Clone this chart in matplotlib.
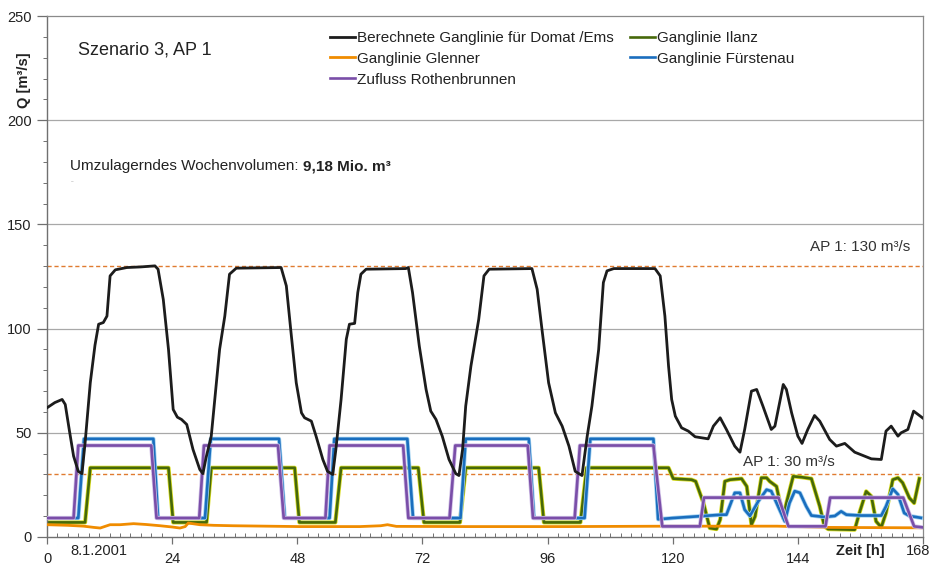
import numpy as np
import matplotlib
matplotlib.use('Agg')
import matplotlib.pyplot as plt
from matplotlib.ticker import MultipleLocator

plt.rcParams['font.family'] = ['Liberation Sans', 'DejaVu Sans']

# ─── DATEN ──────────────────────────────────────────────────────────────────────
# Berechnete Ganglinie Domat/Ems
domat_t = [0, 1.5, 2.9, 3.5, 4.3, 5.1, 6.0, 6.7, 7.3, 8.3, 9.2, 9.9, 10.8, 11.5, 12.1, 13.1,
           15.3, 18, 20.7, 21.3, 22.3, 23.3, 24.2, 25.0, 25.8, 26.8, 28.0, 29.3, 29.9, 30.5,
           31.5, 33.1, 34.1, 35.0, 36.3, 44.9, 45.9, 46.8, 47.8, 48.8, 49.4, 50.7, 51.6, 52.9,
           53.8, 54.8, 55.4, 56.4, 57.4, 58.0, 59.0, 59.6, 60.2, 61.2, 68.8, 69.3, 70.1, 71.4,
           72.7, 73.6, 74.6, 75.8, 77.1, 78.4, 79.0, 79.7, 80.3, 81.3, 82.8, 83.8, 84.8, 93.0,
           94.0, 95.0, 96.2, 97.5, 98.8, 100.1, 101.3, 102.6, 103.6, 104.5, 105.8, 106.7, 107.4,
           108.7, 116.6, 117.6, 118.5, 119.2, 119.8, 120.5, 121.7, 123.0, 124.3, 126.8, 127.8,
           129.1, 130.3, 131.9, 132.9, 133.8, 135.1, 136.1, 137.3, 138.9, 139.6, 140.5, 141.2,
           141.8, 142.8, 144.0, 144.8, 145.9, 147.2, 148.2, 150.1, 151.4, 153.0, 154.9, 156.8,
           158.1, 160.0, 160.9, 161.9, 163.2, 163.8, 165.1, 166.2, 167.3, 168]
domat_q = [62.0, 64.5, 66.0, 63.6, 51, 38.8, 31.5, 30.4, 45, 74.0, 92, 102.1, 102.9, 106, 125.3, 128.2,
           129.3, 129.6, 130.1, 128.5, 114, 90, 61.2, 57.5, 56.4, 54.0, 42.0, 32.4, 30.4, 38,
           48.4, 90, 106, 126.1, 129.0, 129.3, 120.5, 98.1, 74.0, 59.6, 57.2, 55.6, 48.4, 37.2,
           31.5, 30.0, 42, 66, 94.9, 102.1, 102.5, 117.3, 126.1, 128.5, 128.8, 129.3, 117.3, 91.6,
           70.8, 60.4, 56.4, 48.4, 37.2, 30.4, 29.5, 42, 62.8, 82, 104.5, 125.3, 128.5, 128.8,
           118.9, 98.1, 74, 59.6, 53.2, 43.6, 31.5, 29.5, 48.4, 62.8, 90, 122.1, 127.7,
           128.8, 128.8, 125.3, 106, 82, 66, 58, 52.4, 50.8, 48.1, 47.1, 53.2,
           57.2, 51.6, 43.6, 40.7, 51.6, 70, 70.8, 62.8, 51.6, 53.2, 64.4, 73.2,
           70.8, 59.6, 48.4, 44.9, 51.6, 58.3, 55.6, 46.8, 43.6, 44.9, 40.7, 38.8,
           37.5, 37.2, 50.8, 53.2, 48.4, 50, 51.6, 60.4, 58.3, 57.0]

# Ganglinie Ilanz
ilanz_t = [0, 7.3, 8.3, 23.3, 24.2, 30.6, 31.5, 47.5, 48.4, 55.3, 56.4, 71.2, 72.3, 79.2, 80.3,
           94.3, 95.3, 102.3, 103.5, 119.2, 120.1, 123.6, 124.4, 125.9, 127.1, 128.4, 129.1,
           130.0, 131.0, 133.2, 134.2, 135.1, 135.8, 137.0, 138.0, 138.6, 139.9, 141.2, 141.8,
           143.1, 144.7, 146.6, 148.2, 149.1, 149.8, 154.9, 155.8, 157.1, 158.1, 159.0, 160.0,
           160.9, 162.2, 163.2, 164.1, 165.4, 166.3, 167.3]
ilanz_q = [7.0, 7.0, 33.2, 33.2, 7.0, 7.0, 33.2, 33.2, 7.0, 7.0, 33.2, 33.2, 7.0, 7.0, 33.2,
           33.2, 7.0, 7.0, 33.2, 33.2, 28.0, 27.5, 26.7, 16.3, 4.3, 3.8, 8.3,
           26.7, 27.5, 28.0, 24.3, 5.9, 9.9, 28.4, 28.4, 26.7, 24.3, 9.1, 16.3,
           29.1, 28.7, 28.0, 14.7, 5.1, 3.8, 3.5, 11.5, 21.9, 19.5, 7.5, 4.7,
           11.5, 27.5, 28.4, 26.0, 18.7, 16.3, 28.0]

# Ganglinie Glenner
glenner_t = [0, 4, 7, 9, 10.2, 11.5, 12.1, 14, 16.6, 19, 21.7, 24, 25.5, 26.5, 27.1, 29.3, 32,
             35.7, 42, 48.4, 60, 64, 65.3, 67, 80, 100, 120, 140, 150, 168]
glenner_q = [5.9, 5.6, 5.2, 4.6, 4.3, 5.4, 5.9, 5.9, 6.4, 6.0, 5.4, 4.8, 4.3, 5.0, 6.7, 5.9, 5.6,
             5.4, 5.2, 5.0, 5.0, 5.4, 5.9, 5.1, 5.0, 5.0, 5.2, 5.2, 4.6, 4.4]

# Ganglinie Fuerstenau
fuerst_t = [0, 6.0, 7.1, 20.4, 21.3, 30.3, 31.4, 44.5, 45.6, 54.2, 55.1, 69.1, 70.2, 79.3, 80.3,
            92.4, 93.4, 103.1, 104.2, 116.3, 117.2, 120, 123.0, 129.4, 130.3, 131.9, 132.9,
            133.8, 134.8, 136.4, 138.0, 138.9, 140.2, 141.5, 142.4, 143.4, 144.4, 145.6, 146.6,
            149.1, 151.1, 152.3, 153.3, 156.1, 160.0, 160.9, 162.2, 163.2, 164.4, 165.4, 167.6]
fuerst_q = [9.1, 9.1, 47.1, 47.1, 9.1, 9.1, 47.1, 47.1, 9.1, 9.1, 47.1, 47.1, 9.1, 9.1, 47.1,
            47.1, 9.1, 9.1, 47.1, 47.1, 8.5, 9.1, 9.6, 10.7, 10.7, 21.2, 21.2,
            13.1, 10.1, 17.1, 22.7, 22.0, 14.7, 7.5, 16.3, 22.0, 21.2, 14.7, 10.3,
            9.6, 10.1, 12.3, 10.7, 10.3, 10.3, 14.7, 23.1, 20.4, 11.5, 10.1, 9.2]

# Zufluss Rothenbrunnen
rothen_t = [0, 5.1, 6.0, 20.0, 21.0, 29.2, 30.1, 44.3, 45.4, 53.4, 54.2, 68.3, 69.3, 77.2, 78.3,
            92.2, 93.2, 101.2, 102.2, 116.3, 118.0, 125.2, 126.0, 140.3, 142.2, 149.3, 150.2,
            164.2, 166.3, 168]
rothen_q = [9.1, 9.1, 43.9, 43.9, 9.1, 9.1, 43.9, 43.9, 9.1, 9.1, 43.9, 43.9, 9.1, 9.1, 43.9,
            43.9, 9.1, 9.1, 43.9, 43.9, 5.1, 5.1, 18.9, 18.9, 5.1, 5.1, 18.9,
            18.9, 5.1, 4.6]

AP_HIGH = 130
AP_LOW = 30
X_TICKS = [0, 24, 48, 72, 96, 120, 144, 168]
X_LABELS = ['0', '24', '48', '72', '96', '120', '144', '']   # 168 separat (Randabstand)

TXT = '#222222'

# ─── GRAFIK ─────────────────────────────────────────────────────────────────────
fig = plt.figure(figsize=(9.33, 5.67), dpi=100)
ax = fig.add_axes([47/933, 1-537/567, 876/933, 521/567])

ax.set_xlim(0, 168)
ax.set_ylim(0, 250)

for y in [50, 100, 150, 200]:
    ax.axhline(y, color='#a8a8a8', lw=0.9, zorder=1)

ax.axhline(AP_HIGH, color='#e07b30', lw=1.0, ls=(0, (3, 2)), zorder=1.5)
ax.axhline(AP_LOW, color='#e07b30', lw=1.0, ls=(0, (3, 2)), zorder=1.5)

# Linien mit hellem Rand (wie im Original)
ax.plot(ilanz_t, ilanz_q, color='#d8dc20', lw=3.0, zorder=2)
l_ilanz, = ax.plot(ilanz_t, ilanz_q, color='#46680a', lw=1.9, zorder=2.1, label='Ganglinie Ilanz')
l_glen, = ax.plot(glenner_t, glenner_q, color='#f08c00', lw=2.0, zorder=3, label='Ganglinie Glenner')
ax.plot(fuerst_t, fuerst_q, color='#9fd0f0', lw=3.0, zorder=4)
l_fuer, = ax.plot(fuerst_t, fuerst_q, color='#1a6ebe', lw=1.9, zorder=4.1, label='Ganglinie Fürstenau')
ax.plot(rothen_t, rothen_q, color='#d0c0e6', lw=3.0, zorder=5)
l_roth, = ax.plot(rothen_t, rothen_q, color='#7a4ea8', lw=1.9, zorder=5.1, label='Zufluss Rothenbrunnen')
l_dom, = ax.plot(domat_t, domat_q, color='#1c1c1c', lw=2.0, zorder=6,
                 label='Berechnete Ganglinie für Domat /Ems')

# Achsen
ax.set_xticks(X_TICKS)
ax.set_xticklabels(X_LABELS)
ax.xaxis.set_minor_locator(MultipleLocator(2))
ax.yaxis.set_major_locator(MultipleLocator(50))
ax.yaxis.set_minor_locator(MultipleLocator(10))
ax.tick_params(axis='x', which='major', direction='out', length=5, width=0.9,
               color='#707070', labelsize=10.5, pad=5.5)
ax.tick_params(axis='x', which='minor', direction='in', length=3, width=0.7, color='#707070')
ax.tick_params(axis='y', which='major', direction='out', length=7, width=0.9,
               color='#707070', labelsize=10.5, pad=4)
ax.tick_params(axis='y', which='minor', direction='out', length=3, width=0.7, color='#707070')
for lbl in ax.get_xticklabels() + ax.get_yticklabels():
    lbl.set_color(TXT)

for s in ['left', 'bottom']:
    ax.spines[s].set_color('#707070')
    ax.spines[s].set_linewidth(1.0)
for s in ['top', 'right']:
    ax.spines[s].set_color('#8a8a8a')
    ax.spines[s].set_linewidth(0.9)

ax.set_ylabel('Q [m³/s]', fontsize=10.5, fontweight='bold', color=TXT)
ax.yaxis.set_label_coords(-0.018, 0.877)

ax.text(10, -3.2, '8.1.2001', ha='center', va='top', fontsize=10.5, color=TXT, clip_on=False)
ax.text(156.0, -3.2, 'Zeit [h]', ha='center', va='top', fontsize=10.5, fontweight='bold',
        color=TXT, clip_on=False)
ax.text(167.0, -3.2, '168', ha='center', va='top', fontsize=10.5, color=TXT, clip_on=False)

# Texte
ax.text(6.0, 233.5, 'Szenario 3, AP 1', fontsize=13, color=TXT, va='center')
t1 = ax.text(4.4, 178, 'Umzulagerndes Wochenvolumen: ', fontsize=11, color=TXT, va='center')
ax.annotate('9,18 Mio. m³', xy=(1, 0.5), xycoords=t1, va='center', ha='left',
            fontsize=11, fontweight='bold', color=TXT)
ax.text(4.6, 170.5, '--', fontsize=4, color='#999999', va='center')
ax.text(165.5, 139, 'AP 1: 130 m³/s', fontsize=11, color='#333333', ha='right', va='center')
ax.text(133.5, 36.2, 'AP 1: 30 m³/s', fontsize=11, color='#333333', ha='left', va='center')

leg = ax.legend(handles=[l_dom, l_glen, l_roth, l_ilanz, l_fuer], ncol=2, frameon=False,
                loc='upper left', bbox_to_anchor=(0.316, 0.983), borderaxespad=0,
                fontsize=11, handlelength=1.65, handletextpad=0.1, columnspacing=1.1,
                labelspacing=0.45)
for t in leg.get_texts():
    t.set_color(TXT)

fig.savefig('out.png', dpi=100)
